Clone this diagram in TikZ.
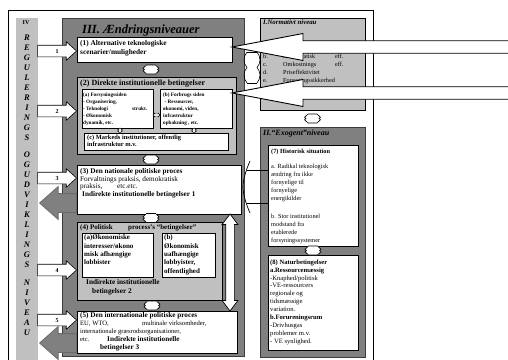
\documentclass[tikz,border=0pt]{standalone}
\usepackage{fontspec}
\setmainfont{Liberation Serif}
\usetikzlibrary{shapes.arrows,calc}
\definecolor{lgrey}{HTML}{C0C0C0}
\definecolor{dgrey}{HTML}{808080}
\definecolor{dedge}{HTML}{3C3C3C}
\definecolor{garrow}{HTML}{6A6A6A}
\newcommand\fsz[2]{\fontsize{#1}{#2}\selectfont}
\begin{document}
\begin{tikzpicture}[x=1pt,y=-1pt,
  panel/.style={draw=black, line width=0.8pt, anchor=north west, inner sep=0pt, outer sep=0pt},
  wbox/.style={panel, fill=white},
  gbox/.style={panel, fill=lgrey},
  dbox/.style={panel, fill=dgrey, draw=dedge},
  txt/.style={anchor=north west, inner sep=0pt, align=left},
  colw/.style={anchor=north, inner sep=0pt, align=center, font=\bfseries\itshape\fsz{8.5}{10}},
  num/.style={inner sep=0pt, font=\bfseries\fsz{6}{6}},
  inarrow/.style={single arrow, draw=black, fill=white, line width=0.6pt,
    single arrow head extend=3.5pt, single arrow tip angle=84,
    inner xsep=1pt, inner ysep=5.5pt, text height=0pt, text depth=0pt,
    minimum height=39pt, anchor=tip},
  outarrow/.style={single arrow, shape border rotate=180, draw=garrow, fill=dgrey,
    line width=0.8pt, single arrow head extend=7pt, single arrow tip angle=83,
    inner xsep=1pt, inner ysep=9pt, text height=0pt, text depth=0pt,
    minimum height=37pt, anchor=tail},
  bigline/.style={draw=black, fill=white, line width=0.9pt, line join=miter},
  vdarrow/.style={double arrow, shape border rotate=90, draw=black, fill=white,
    line width=0.7pt, double arrow head extend=3.5pt, double arrow tip angle=74,
    inner sep=4pt, text height=0pt, text depth=0pt, text width=0pt,
    minimum height=97pt},
  hexlink/.pic={\filldraw[fill=white, draw=black, line width=0.6pt]
    (-4.5,-4.5) -- (4.5,-4.5) -- (8,-1.2) -- (6.5,0) -- (8,1.2) -- (4.5,4.5) --
    (-4.5,4.5) -- (-8,1.2) -- (-6.5,0) -- (-8,-1.2) -- cycle;},
  tiny/.style={fill=white, draw=black, line width=0.4pt}
]
\useasboundingbox (0,0) rectangle (508,359);

% outer frame, side column and the main panels
\node[wbox, minimum width=365pt, minimum height=352pt] (frame) at (8,10) {};
\node[anchor=north west, fill=lgrey, inner sep=0pt, minimum width=22pt, minimum height=342pt] (col) at (16,18) {};
\node[dbox, minimum width=182pt, minimum height=338pt] (III) at (62,18) {};
\node[gbox, minimum width=105pt, minimum height=92pt] (Ib) at (260,18) {};
\node[dbox, minimum width=105pt, minimum height=230pt] (IIb) at (260,127) {};

% vertical caption of the side column
\node[inner sep=0pt, font=\bfseries\fsz{6}{6}] (iv) at (26,22.5) {IV};
\node[colw] (w1) at (27,35.2) {R\\E\\G\\U\\L\\E\\R\\I\\N\\G\\S};
\node[colw] (w2) at (27,151.2) {O\\G};
\node[colw] (w3) at (27,172.2) {U\\D\\V\\I\\K\\L\\I\\N\\G\\S};
\node[colw] (w4) at (27,280.2) {N\\I\\V\\E\\A\\U};

\node[anchor=base west, inner sep=0pt, font=\bfseries\itshape\fsz{12.5}{13}] (title) at (82,33) {III. Ændringsniveauer};

% boxes of level III
\node[wbox, minimum width=155pt, minimum height=25pt] (b1) at (77,37) {};
\node[gbox, minimum width=159pt, minimum height=77pt] (b2) at (77,77) {};
\node[wbox, minimum width=71pt, minimum height=39pt] (b2a) at (82,89) {};
\node[wbox, minimum width=72pt, minimum height=39pt] (b2b) at (160,89) {};
\node[wbox, minimum width=144pt, minimum height=17pt] (b2c) at (84,133) {};
\node[wbox, minimum width=164pt, minimum height=49pt] (b3) at (77,165) {};
\node[gbox, minimum width=145pt, minimum height=78pt] (b4) at (77,222) {};
\node[wbox, minimum width=71pt, minimum height=44pt] (b4a) at (82,233) {};
\node[wbox, minimum width=53pt, minimum height=44pt] (b4b) at (162,233) {};
\node[wbox, minimum width=160pt, minimum height=42pt] (b5) at (77,311) {};

% boxes of level II
\node[wbox, minimum width=90pt, minimum height=101pt] (b7) at (268,145) {};
\node[wbox, minimum width=90pt, minimum height=95pt] (b8) at (268,255) {};

% texts of level III
\node[txt, font=\bfseries\fsz{7.3}{9}] (t1) at (80,40.6) {(1) Alternative teknologiske\\scenarier/muligheder};
\node[txt, font=\bfseries\fsz{8}{9}] (t2) at (80,79.4) {(2) Direkte institutionelle betingelser};
\node[txt, font=\bfseries\fsz{5.2}{7}] (t2a) at (83,92.6) {(a) Forsyningssiden\\- Organisering,\\\makebox[49pt][l]{- Teknologi}strukt.\\- Økonomisk\\dynamik, etc.};
\node[txt, font=\bfseries\fsz{5.2}{7}] (t2b) at (163,92.6) {(b) Forbrugs siden\\\hspace*{1.5pt}- Ressourcer,\\økonomi, viden,\\infrastruktur\\opbakning , etc.};
\node[txt, font=\bfseries\fsz{6.4}{6.8}] (t2c) at (87,135) {(c) Markeds institutioner, offentlig\\infrastruktur m.v.};
\node[txt, font=\fsz{7.2}{7.5}] (t3) at (80,168.7) {\textbf{(3) Den nationale politiske proces}\\Forvaltnings praksis, demokratisk\\\makebox[37pt][l]{praksis,}etc.etc.\\\hspace*{2pt}\textbf{Indirekte institutionelle betingelser 1}};
\node[txt, font=\bfseries\fsz{7}{8}] (t4) at (80,224.8) {\makebox[48pt][l]{(4) Politisk}process’s ``betingelser''};
\node[txt, font=\bfseries\fsz{7}{8.3}] (t4a) at (84,234.8) {(a)Økonomiske\\interesser/økono\\misk afhængige\\lobbister};
\node[txt, font=\bfseries\fsz{7}{8.3}] (t4b) at (164,234.8) {(b)\\Økonomisk\\uafhængige\\lobbyister,\\offentlighed};
\node[txt, font=\bfseries\fsz{7.3}{9}] (t4c) at (86,279.7) {Indirekte institutionelle\\\hspace*{6pt}betingelser 2};
\node[txt, font=\fsz{6.6}{8}] (t5) at (80,311.8) {{\bfseries\fsz{7.2}{8}(5) Den internationale politiske proces}\\\makebox[62pt][l]{EU, WTO,}multinale virksomheder,\\internationale græsrodsorganisationer,\\\makebox[27pt][l]{etc.}{\bfseries\fsz{7.2}{8}Indirekte institutionelle}\\\hspace*{20pt}{\bfseries\fsz{7.2}{8}betingelser 3}};

% texts of levels I and II
\node[txt, font=\bfseries\itshape\fsz{6.8}{7}] (tI) at (263,20) {I.Normativt niveau};
\node[txt, font=\fsz{6.2}{8}] (tIl) at (263,53.8) {b.\\c.\\d.\\e.};
\node[txt, font=\fsz{6.2}{8}] (tIt) at (283,53.8) {\makebox[52pt][l]{Demokratisk}eff.\\\makebox[52pt][l]{Omkostnings}eff.\\Priseffektivitet\\Forsyningssikkerhed};
\node[txt, font=\bfseries\itshape\fsz{8}{9}] (tII) at (263,130.2) {II.``Exogent''niveau};
\node[txt, font=\fsz{6.3}{8}] (t7) at (271,149.2) {\textbf{(7) Historisk situation}\\[7pt]a. Radikal teknologisk\\ændring fra ikke\\fornyelige til\\fornyelige\\energikilder\\[10pt]b. Stor institutionel\\modstand fra\\etablerede\\forsyningssystemer};
\node[txt, font=\fsz{6.6}{7.9}] (t8) at (270,259.5) {\textbf{(8) Naturbetingelser}\\\textbf{a.Ressourcemæssig}\\-Knaphed/politisk\\-VE-ressourcers\\regionale og\\tidsmæssige\\variation.\\\textbf{b.Forureningsrum}\\-Drivhusgas\\problemer m.v.\\- VE synlighed.};

% small links inside box (2)
\filldraw[tiny] (153,115) -- (155,113) -- (155,114) -- (158,114) -- (158,113) -- (160,115) -- (158,117) -- (158,116) -- (155,116) -- (155,117) -- cycle;
\filldraw[tiny] (120,128) -- (122.5,130) -- (121,130) -- (121,131) -- (122.5,131) -- (120,133) -- (117.5,131) -- (119,131) -- (119,130) -- (117.5,130) -- cycle;
\filldraw[tiny] (194,128) -- (196.5,130) -- (195,130) -- (195,131) -- (196.5,131) -- (194,133) -- (191.5,131) -- (193,131) -- (193,130) -- (191.5,130) -- cycle;

% links between stacked boxes
\pic at (151,69.5) {hexlink};
\pic at (151,159.5) {hexlink};
\pic at (151,218) {hexlink};
\pic at (152,305.5) {hexlink};
\pic at (312.5,118.5) {hexlink};
\pic at (313,250.5) {hexlink};

% inputs from the regulation column
\node[inarrow] (a1) at ([yshift=-1.5pt]b1.west) {};
\node[inarrow] (a2) at ([yshift=4.5pt]b2.west) {};
\node[inarrow] (a3) at ([yshift=11.5pt]b3.west) {};
\node[inarrow] (a4) at ([yshift=-9pt]b4.west) {};
\node[inarrow] (a5) at ([yshift=12pt]b5.west) {};
\node[num] (n1) at ($(a1.tip)+(-20,0.5)$) {1};
\node[num] (n2) at ($(a2.tip)+(-20,0.5)$) {2};
\node[num] (n3) at ($(a3.tip)+(-20,0.5)$) {3};
\node[num] (n4) at ($(a4.tip)+(-20,0.5)$) {4};
\node[num] (n5) at ($(a5.tip)+(-20,0.5)$) {5};

% feedback back to the column
\node[outarrow] (o3) at ([yshift=-13.5pt]b3.west) {};
\node[outarrow] (o5) at ([yshift=-11pt]b5.west) {};

% two-way link between (3) and (5)
\coordinate (vx) at (230,0);
\node[vdarrow] (v35) at ($(vx |- b3.south)!0.5!(vx |- b5.north)$) {};

% brackets towards levels I and II
\draw[line width=0.6pt] (247,52) -- (257,52);
\draw[line width=0.6pt] (247,52) .. controls (243,57) and (243,63) .. (247,67.5) .. controls (243,72) and (243,78) .. (247,83);
\draw[line width=0.6pt] (257,52) .. controls (261,57) and (261,63) .. (257,67.5) .. controls (261,72) and (261,78) .. (257,83);
\draw[line width=0.6pt] (247,83) -- (257,83);
\draw[line width=0.7pt] (250,161) .. controls (246,170) and (243,180) .. (243,187) .. controls (243,194) and (246,204) .. (250,213);
\draw[line width=0.7pt] (246.5,170) -- (b7.west |- 0,170);
\draw[line width=0.7pt] (246.5,203) -- (b7.west |- 0,203);

% normative pressure from outside, pointing at (1) and (2)
\coordinate (r1) at ([yshift=2.5pt]b1.east);
\coordinate (r2) at ([yshift=15.5pt]b2b.east);
\filldraw[bigline] (r1) -- ++(71,-13.5) -- ++(0,7.25) -- ++(220,0) -- ++(0,12.5) -- ++(-220,0) -- ++(0,7.25) -- cycle;
\filldraw[bigline] (r2) -- ++(71,-13.5) -- ++(0,7.25) -- ++(220,0) -- ++(0,12.5) -- ++(-220,0) -- ++(0,7.25) -- cycle;
\end{tikzpicture}
\end{document}
